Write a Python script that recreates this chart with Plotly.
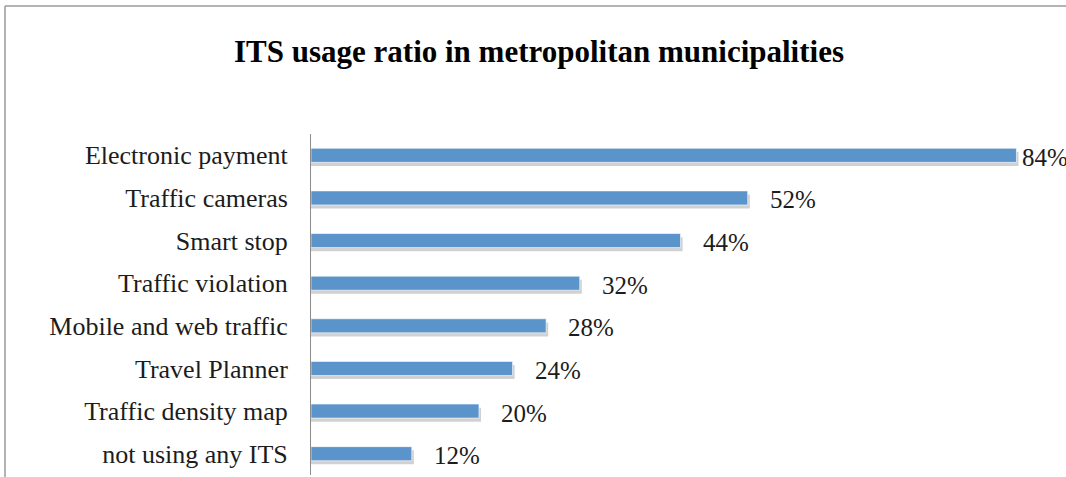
import plotly.graph_objects as go

categories = ["Electronic payment", "Traffic cameras", "Smart stop", "Traffic violation",
              "Mobile and web traffic", "Travel Planner", "Traffic density map", "not using any ITS"]
values = [84, 52, 44, 32, 28, 24, 20, 12]
labels = [f"{v}%" for v in values]

title_text = "ITS usage ratio in metropolitan municipalities"

W, H = 1066, 477
ML, MR, MT, MB = 311, 0, 134, 2
XMAX = 89.9
px_per_unit = (W - ML - MR) / XMAX

bar_color = "#5B94CB"
font_family = "Liberation Serif, Times New Roman, serif"
text_color = "#1c1c1c"

fig = go.Figure()

# shadow
fig.add_trace(go.Bar(
    y=categories, x=[v + 0.25 for v in values], orientation="h",
    width=0.33, offset=-0.165 + 0.085,
    marker=dict(color="rgba(0,0,0,0.18)", line=dict(width=0)),
    hoverinfo="skip", showlegend=False,
))
# bars
fig.add_trace(go.Bar(
    y=categories, x=values, orientation="h",
    width=0.33, offset=-0.165,
    marker=dict(color=bar_color, line=dict(color="rgba(255,255,255,0.6)", width=1)),
    showlegend=False,
))

# data labels
for c, v, t in zip(categories, values, labels):
    shift = 20
    if v + (shift + 50) / px_per_unit > XMAX:
        shift = 4
    fig.add_annotation(x=v, y=c, text=t, xanchor="left", yanchor="middle",
                       xshift=shift, yshift=-2, showarrow=False,
                       font=dict(family=font_family, size=25, color=text_color))

# outer border (partially visible)
bx = (5 - ML) / (W - ML - MR)
by = (H - MB - 6) / (H - MT - MB)
fig.add_shape(type="line", xref="paper", yref="paper", x0=bx, x1=bx, y0=-0.2, y1=by,
              line=dict(color="#9a9a9a", width=1.5))
fig.add_shape(type="line", xref="paper", yref="paper", x0=bx, x1=1.2, y0=by, y1=by,
              line=dict(color="#9a9a9a", width=1.5))

fig.update_layout(
    width=W, height=H,
    margin=dict(l=ML, r=MR, t=MT, b=MB),
    paper_bgcolor="white", plot_bgcolor="white",
    barmode="overlay",
    title=dict(text=f"<b>{title_text}</b>", x=539 / W, xanchor="center",
               y=1 - 51 / H, yanchor="middle", yref="container",
               font=dict(family=font_family, size=31, color="#000000")),
    xaxis=dict(range=[0, XMAX], visible=False, showgrid=False, zeroline=False),
    yaxis=dict(range=[7.5, -0.5], type="category", categoryarray=categories,
               categoryorder="array", showgrid=False, zeroline=False,
               showline=True, linecolor="#8c8c8c", linewidth=1,
               ticks="", ticklabelstandoff=17,
               tickfont=dict(family=font_family, size=26, color=text_color)),
)

fig.write_html("out.html")
